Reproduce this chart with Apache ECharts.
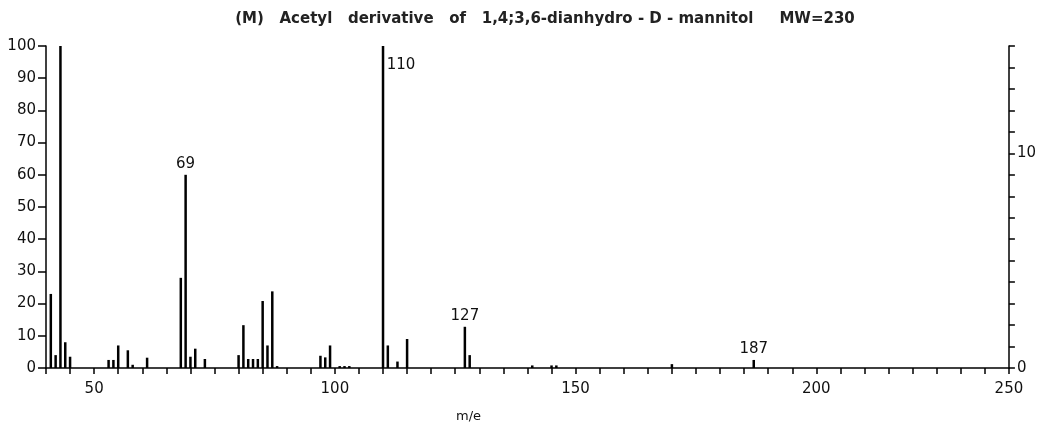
<!DOCTYPE html>
<html>
<head>
<meta charset="utf-8">
<script src="https://cdn.jsdelivr.net/npm/echarts@6/dist/echarts.min.js"></script>
<style>
  html, body { margin: 0; padding: 0; background: #fff; }
  #chart { width: 1039px; height: 426px; }
</style>
</head>
<body>
<div id="chart"></div>
<script>
// m/e values and relative intensities
const masses = [41, 42, 43, 44, 45, 53, 54, 55, 57, 58, 61, 68, 69, 70, 71, 73,
  80, 81, 82, 83, 84, 85, 86, 87, 88, 97, 98, 99, 101, 102, 103,
  110, 111, 113, 115, 127, 128, 141, 145, 146, 170, 187];
const intensity = [23, 4, 100, 8, 3.5, 2.5, 2.5, 7, 5.5, 1, 3.2, 28, 60, 3.5, 6, 2.8,
  4, 13.3, 2.8, 2.8, 2.8, 20.8, 7, 23.8, 0.6, 3.8, 3.3, 7, 0.6, 0.6, 0.6,
  100, 7, 2, 9, 12.8, 4, 0.8, 0.8, 0.8, 1.2, 2.5];
const labelledPeaks = [69, 110, 127, 187];
const leftTicks = [0, 100, 10];   // min, max, step
const rightTicks = [0, 15, 1];

const font = "DejaVu Sans";
const chart = echarts.init(document.getElementById("chart"));

const seriesData = masses.map((m, i) => {
  const item = { value: [m, intensity[i]] };
  if (labelledPeaks.includes(m)) {
    item.label = m === 110
      ? { show: true, position: [5, 12], align: "left", verticalAlign: "top" }
      : { show: true, position: "top", distance: 3 };
  }
  return item;
});

const option = {
  animation: false,
  title: {
    text: "(M)   Acetyl   derivative   of   1,4;3,6-dianhydro - D - mannitol     MW=230",
    left: 540,
    textAlign: "center",
    top: 7,
    textStyle: { fontFamily: font, fontSize: 15, fontWeight: "bold", color: "#222" },
  },
  grid: { left: 46, right: 29, top: 46, bottom: 58 },
  xAxis: {
    type: "value",
    min: 40,
    max: 240,
    interval: 5,
    axisLine: { lineStyle: { color: "#000", width: 1.5 } },
    axisTick: { lineStyle: { color: "#000", width: 1.5 }, length: 6 },
    splitLine: { show: false },
    axisLabel: {
      color: "#111",
      fontFamily: font,
      fontSize: 15,
      margin: 14,
      showMaxLabel: true,
      formatter: (v) => (v === 240 ? "250" : v % 50 === 0 ? String(v) : ""),
    },
  },
  yAxis: [
    {
      type: "value",
      min: leftTicks[0],
      max: leftTicks[1],
      interval: leftTicks[2],
      axisLine: { show: true, lineStyle: { color: "#000", width: 1.5 } },
      axisTick: { show: true, length: 8, lineStyle: { color: "#000", width: 1.5 } },
      splitLine: { show: false },
      axisLabel: { color: "#111", fontFamily: font, fontSize: 15, margin: 10 },
    },
    {
      type: "value",
      position: "right",
      min: rightTicks[0],
      max: rightTicks[1],
      interval: rightTicks[2],
      axisLine: { show: true, lineStyle: { color: "#000", width: 1.5 } },
      axisTick: { show: true, length: 6, lineStyle: { color: "#000", width: 1.5 } },
      splitLine: { show: false },
      axisLabel: {
        color: "#111",
        fontFamily: font,
        fontSize: 15,
        margin: 8,
        formatter: (v) => (v === 0 || v === 10 ? String(v) : ""),
      },
    },
  ],
  graphic: [
    {
      type: "text",
      left: 456,
      top: 410,
      style: { text: "m/e", font: "13px " + font, fill: "#111" },
    },
  ],
  series: [
    {
      type: "bar",
      yAxisIndex: 0,
      barWidth: 2.5,
      itemStyle: { color: "#000" },
      label: {
        show: false,
        color: "#111",
        fontFamily: font,
        fontSize: 15,
        formatter: (p) => String(p.value[0]),
      },
      data: seriesData,
    },
  ],
};

chart.setOption(option);
</script>
</body>
</html>
